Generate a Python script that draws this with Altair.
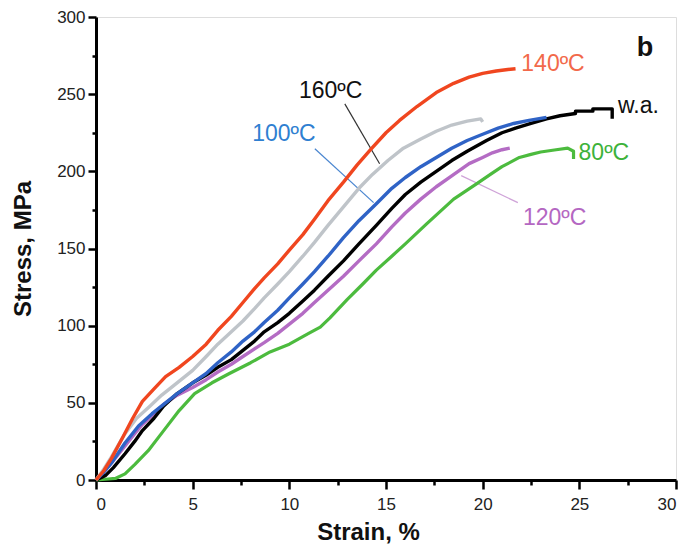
import altair as alt
import pandas as pd

# ---- data ----
red_x = [0, 0.4, 0.8, 1.4, 1.9, 2.4, 3.0, 3.6, 4.3, 5.0, 5.7, 6.3, 7.0, 7.6, 8.2, 8.7, 9.4, 10.0, 10.7, 11.3, 12.0, 12.8, 13.5, 14.2, 15.0, 15.7, 16.6, 17.6, 18.5, 19.3, 20.0, 20.7, 21.3, 21.7]
red_y = [0, 6, 14, 28, 40, 51, 59, 67, 73, 80, 88, 97, 106, 115, 124, 131, 140, 149, 159, 169, 181, 193, 204, 214, 225, 233, 242, 251, 257, 261, 263.5, 265, 266, 266.5]

gray_x = [0, 0.4, 0.8, 1.5, 2.1, 2.8, 3.4, 4.0, 5.0, 5.7, 6.3, 7.0, 7.6, 8.2, 8.7, 9.4, 10.0, 10.7, 11.3, 12.0, 12.8, 13.6, 14.3, 15.1, 15.9, 16.8, 17.6, 18.4, 19.2, 19.9, 20.0]
gray_y = [0, 7, 15, 30, 40, 48, 55, 61, 71, 80, 88, 96, 103, 111, 118, 127, 135, 145, 154, 165, 177, 189, 198, 207, 215, 221, 226, 230, 232.5, 234, 232]

blue_x = [0, 0.4, 0.8, 1.5, 2.2, 2.9, 3.5, 4.2, 5.0, 5.7, 6.3, 7.0, 7.6, 8.2, 8.7, 9.4, 10.0, 10.7, 11.3, 12.0, 12.8, 13.6, 14.5, 15.3, 16.0, 16.8, 17.6, 18.4, 19.2, 20.0, 20.8, 21.6, 22.4, 23.3]
blue_y = [0, 5, 11, 24, 35, 43, 49, 56, 63, 69, 76, 83, 90, 96, 102, 110, 118, 127, 135, 145, 157, 168, 179, 189, 196, 203, 209, 215, 220, 224, 228, 231, 233, 235]

black_x = [0, 0.5, 0.9, 1.5, 2.0, 2.4, 3.0, 3.5, 4.2, 5.0, 5.7, 6.3, 7.0, 7.6, 8.2, 8.7, 9.4, 10.0, 10.7, 11.3, 12.0, 12.8, 13.6, 14.5, 15.3, 16.0, 16.8, 17.6, 18.4, 19.2, 20.2, 21.0, 21.7, 22.5, 23.3, 24.0, 24.8, 24.8, 25.7, 25.7, 26.7, 26.7]
black_y = [0, 3, 8, 17, 25, 32, 40, 48, 56, 63, 68, 73, 78, 84, 90, 96, 102, 108, 116, 123, 132, 142, 153, 165, 176, 185, 193, 200, 207, 213, 220, 225, 228, 231, 234, 236, 237.5, 239, 239, 240.5, 240.5, 234]

purple_x = [0, 0.4, 0.8, 1.5, 2.0, 2.4, 3.0, 3.5, 4.2, 5.0, 5.7, 6.3, 7.0, 7.6, 8.2, 8.7, 9.4, 10.0, 10.7, 11.3, 12.0, 12.8, 13.6, 14.5, 15.3, 16.0, 16.8, 17.6, 18.4, 19.3, 20.0, 20.5, 21.0, 21.4]
purple_y = [0, 5, 11, 22, 30, 36, 43, 49, 55, 60, 65, 70, 75, 80, 85, 89, 95, 101, 108, 115, 123, 132, 142, 153, 164, 173, 182, 190, 197, 205, 209, 212, 214, 215]

green_x = [0, 0.5, 1.0, 1.5, 2.0, 2.7, 3.5, 4.3, 5.1, 6.0, 6.9, 8.0, 9.0, 10.0, 11.0, 11.6, 12.1, 13.0, 13.8, 14.5, 15.3, 16.0, 17.1, 18.5, 19.7, 20.4, 21.0, 21.9, 22.5, 23.0, 23.8, 24.4, 24.7, 24.7]
green_y = [0, 0.5, 1, 4, 10, 19, 32, 45, 56, 63, 69, 76, 83, 88, 95, 99, 105, 117, 127, 136, 145, 153, 166, 182, 192, 198, 203, 209, 211, 212.5, 214, 215, 213, 208]

# drawn bottom to top
series_names = ["80ºC", "120ºC", "w.a.", "100ºC", "160ºC", "140ºC"]
series_x = [green_x, purple_x, black_x, blue_x, gray_x, red_x]
series_y = [green_y, purple_y, black_y, blue_y, gray_y, red_y]
series_colors = ["#4cbb3e", "#b46cc4", "#000000", "#2f63c6", "#bfc4c9", "#f0461f"]
series_widths = [3.2, 3.4, 3.4, 3.4, 3.4, 3.4]

label_text = ["140ºC", "w.a.", "80ºC", "120ºC", "100ºC", "160ºC"]
label_x = [22.0, 27.0, 24.96, 22.08, 8.08, 10.5]
label_y = [269.6, 242.4, 212.0, 170.0, 224.0, 252.0]
label_color = ["#f2694a", "#111111", "#3db23a", "#b467c2", "#2f7fd1", "#111111"]

panel_text = ["b"]
panel_x = [28.4]
panel_y = [280.0]

lead_x1 = [12.87, 11.32, 18.89]
lead_y1 = [243.7, 214.6, 197.2]
lead_x2 = [14.67, 14.36, 21.82]
lead_y2 = [204.9, 179.7, 179.7]
lead_color = ["#333333", "#4a86d0", "#cfa3d8"]

x_major = [0, 5, 10, 15, 20, 25, 30]
x_minor = [2.5, 7.5, 12.5, 17.5, 22.5, 27.5]
y_major = [0, 50, 100, 150, 200, 250, 300]
y_minor = [25, 75, 125, 175, 225, 275]

FONT = "Liberation Sans"
W, H = 580, 463

xs = alt.Scale(domain=[0, 30], nice=False, zero=False)
ys = alt.Scale(domain=[0, 300], nice=False, zero=False)

x_axis = alt.Axis(values=x_major, orient="bottom", title="Strain, %", grid=False,
                  domainColor="#000", domainWidth=3, tickColor="#000", tickWidth=2.5,
                  tickSize=9, labelPadding=7, labelFont=FONT, labelFontSize=17,
                  labelColor="#222", titleFont=FONT, titleFontSize=24, titleFontWeight="bold",
                  titleColor="#111", titlePadding=8, titleX=272, format="d")
y_axis = alt.Axis(values=y_major, orient="left", title="Stress, MPa", grid=False,
                  domainColor="#000", domainWidth=3, tickColor="#000", tickWidth=2.5,
                  tickSize=8, labelPadding=3, labelFont=FONT, labelFontSize=17,
                  labelColor="#222", titleFont=FONT, titleFontSize=24, titleFontWeight="bold",
                  titleColor="#111", titlePadding=21, format="d")
x_minor_axis = alt.Axis(values=x_minor, orient="bottom", title=None, grid=False, labels=False,
                        domain=False, tickColor="#000", tickWidth=2.5, tickSize=5)
y_minor_axis = alt.Axis(values=y_minor, orient="left", title=None, grid=False, labels=False,
                        domain=False, tickColor="#000", tickWidth=2.5, tickSize=4)

layers = []
for k, (name, sx, sy, col, sw) in enumerate(zip(series_names, series_x, series_y, series_colors, series_widths)):
    d = pd.DataFrame({"strain": sx, "stress": sy, "i": list(range(len(sx)))})
    enc_x = alt.X("strain:Q", scale=xs, axis=x_axis if k == 0 else None)
    enc_y = alt.Y("stress:Q", scale=ys, axis=y_axis if k == 0 else None)
    layers.append(
        alt.Chart(d).mark_line(color=col, strokeWidth=sw, strokeJoin="round", strokeCap="butt")
        .encode(x=enc_x, y=enc_y, order="i:Q")
    )

lead_df = pd.DataFrame({"x1": lead_x1, "y1": lead_y1, "x2": lead_x2, "y2": lead_y2, "c": lead_color})
leaders = alt.Chart(lead_df).mark_rule(strokeWidth=1.2).encode(
    x=alt.X("x1:Q", scale=xs, axis=x_minor_axis),
    y=alt.Y("y1:Q", scale=ys, axis=y_minor_axis),
    x2="x2:Q", y2="y2:Q",
    color=alt.Color("c:N", scale=None),
)

lab_df = pd.DataFrame({"t": label_text, "x": label_x, "y": label_y, "c": label_color})
labels = alt.Chart(lab_df).mark_text(font=FONT, fontSize=23, align="left", baseline="middle").encode(
    x=alt.X("x:Q", scale=xs, axis=None),
    y=alt.Y("y:Q", scale=ys, axis=None),
    text="t:N",
    color=alt.Color("c:N", scale=None),
)

panel_df = pd.DataFrame({"t": panel_text, "x": panel_x, "y": panel_y})
panel = alt.Chart(panel_df).mark_text(font=FONT, fontSize=27, fontWeight="bold", align="center",
                                      baseline="middle", color="#111").encode(
    x=alt.X("x:Q", scale=xs, axis=None),
    y=alt.Y("y:Q", scale=ys, axis=None),
    text="t:N",
)

chart = alt.layer(leaders, *layers, labels, panel).resolve_axis(
    x="independent", y="independent"
).properties(
    width=W, height=H, padding={"left": 3, "top": 0, "right": 0, "bottom": 0}
).configure_view(stroke="#9aa2a8", strokeWidth=1.5).configure(background="#ffffff")

chart.save("out.html", embed_options={"renderer": "svg", "actions": False})
